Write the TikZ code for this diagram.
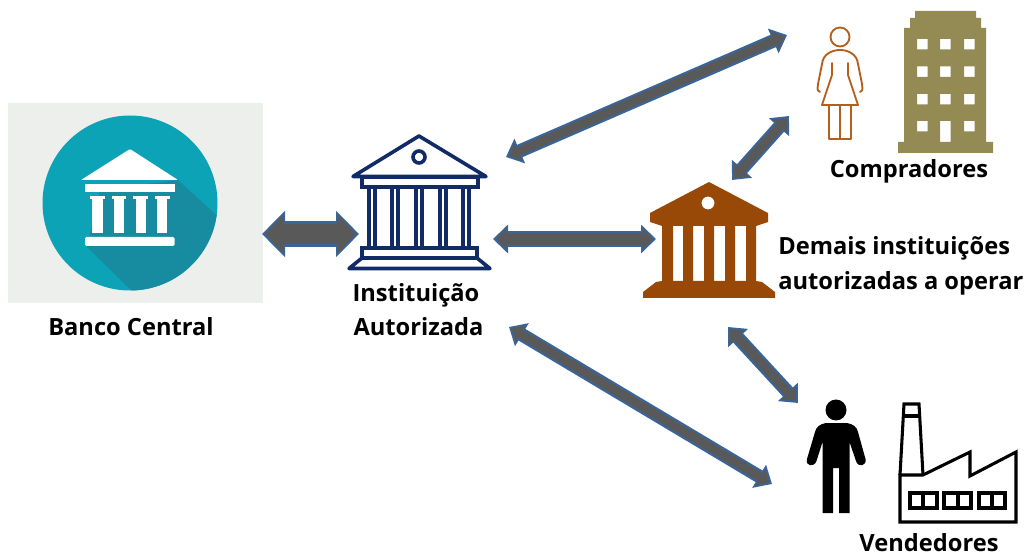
\documentclass[tikz,border=0pt]{standalone}
\usepackage{fontspec}
\setmainfont{Open Sans}
\usetikzlibrary{arrows.meta}
\definecolor{panelgrey}{HTML}{EDEFED}
\definecolor{teal1}{HTML}{0DA3B7}
\definecolor{teal2}{HTML}{178CA0}
\definecolor{navybank}{HTML}{112B66}
\definecolor{brownbank}{HTML}{984807}
\definecolor{womanline}{HTML}{B45F1C}
\definecolor{olivebld}{HTML}{948B54}
\definecolor{arrowcore}{HTML}{595959}
\definecolor{arrowedge}{HTML}{3A6598}
\tikzset{
  lbl/.style={font=\bfseries\fontsize{17.75}{20}\selectfont,text=black,inner sep=0pt},
  linkedge/.style={arrowedge,line width=#1*0.75pt+2.6pt},
  linkcore/.style={arrowcore,line width=#1*0.75pt-0.8pt},
  navy/.style={draw=navybank,line width=2.7pt,line join=miter},
  blk/.style={draw=black,line width=2.3pt,line join=miter},
  wom/.style={draw=womanline,line width=1.4pt,line join=round,line cap=round},
}
% #1 from, #2 to, #3 shaft px, #4 head width px, #5 head length px
\newcommand{\twoway}[5]{%
  \draw[linkedge=#3,{Triangle[length=#5*0.75pt,width=#4*0.75pt]}-{Triangle[length=#5*0.75pt,width=#4*0.75pt]}] (#1) -- (#2);
  \draw[linkcore=#3,shorten <=2.4pt,shorten >=2.4pt,{Triangle[length=#5*0.75pt-3.6pt,width=#4*0.75pt-5.4pt]}-{Triangle[length=#5*0.75pt-3.6pt,width=#4*0.75pt-5.4pt]}] (#1) -- (#2);
}
\begin{document}
\begin{tikzpicture}[x=0.75pt,y=-0.75pt]
\useasboundingbox (0,0) rectangle (1026,556);
% --- Banco Central icon
\fill[panelgrey] (8,103) rectangle (263,303);
\fill[teal1] (130,203) circle (87.5);
\begin{scope}
  \clip (130,203) circle (87.5);
  \fill[teal2] (178,180) -- (225,223) -- (225,300) -- (141,300) -- (87,247) -- (100,190) -- cycle;
\end{scope}
\fill[white,rounded corners=0.8pt] (130,149) -- (178,180) -- (81,180) -- cycle;
\fill[white] (85,184) rectangle (174.5,192);
\foreach \ca/\cb/\sa/\sb in {90/105/92/103,112/126/114/124,133/148/136/146,155/170/157/167}{
  \fill[white] (\ca,196) rectangle (\cb,199.5);
  \fill[white] (\sa,199) rectangle (\sb,233);
}
\fill[white,rounded corners=1pt] (85,237) rectangle (174.5,246);
% --- Instituicao Autorizada bank
\draw[navy,line join=round] (353,176.5) -- (419,136) -- (486,176.5) -- cycle;
\draw[navy] (419,157) circle (6);
\draw[navy] (362,177) rectangle (478,187);
\foreach \pa/\pb in {369/375,392/398,416/422,440/446,463/469}{
  \draw[navy] (\pa,187) -- (\pa,248);
  \draw[navy] (\pb,187) -- (\pb,248);
}
\draw[navy] (362,248) rectangle (477,258);
\draw[navy,line join=round] (362,258) -- (349,268.5) -- (490,268.5) -- (477,258);
% --- Demais instituicoes bank
\fill[brownbank,even odd rule]
  (709,182) -- (768,213) -- (768,222) -- (756,226) -- (756,281) -- (762,282) -- (775,292) -- (775,298)
  -- (643,298) -- (643,292) -- (656,282) -- (662,281) -- (662,226) -- (650,222) -- (650,213) -- cycle
  (708,203) circle (6.5)
  (673,226) rectangle (683,281)
  (693,226) rectangle (704,281)
  (714,226) rectangle (725,281)
  (735,226) rectangle (746,281);
% --- Woman
\draw[wom] (840,37) circle (9.5);
\draw[wom] (820,92) .. controls (816,90) and (818,88) .. (818,84) -- (822,64) .. controls (823,54) and (832,50) .. (840,50)
  .. controls (848,50) and (857,54) .. (858,64) -- (862,84) .. controls (862,88) and (864,90) .. (860,92);
\draw[wom] (832,63) -- (832,75) -- (822,105) -- (858,105) -- (848,75) -- (848,63);
\draw[wom] (829,105) -- (829,139) -- (851,139) -- (851,105);
\draw[wom] (840,105) -- (840,139);
% --- Building
\fill[olivebld,even odd rule]
  (915,11) -- (976,11) -- (976,18) -- (981,18) -- (981,28) -- (986,28) -- (986,142) -- (993,142) -- (993,153)
  -- (898,153) -- (898,142) -- (904,142) -- (904,28) -- (910,28) -- (910,18) -- (915,18) -- cycle
  \foreach \wy in {39,66.5,94,121}{
    (917,\wy) rectangle ++(10.5,10.5)
    (964,\wy) rectangle ++(10.5,10.5)
  }
  \foreach \wy in {39,66.5,94}{ (940,\wy) rectangle ++(10.5,10.5) }
  (940,121) rectangle (950.5,142);
% --- Man
\fill[black] (836,410) circle (10.5);
\fill[black]
  (826,423) -- (847,423) .. controls (853,424) and (857,427) .. (858,432) -- (865.5,459)
  .. controls (867,466) and (858,468) .. (856,461) -- (849.5,442)
  -- (849.5,513) -- (839,513) -- (839,468) -- (833,468) -- (833,513) -- (822.5,513) -- (822.5,442)
  -- (816.5,461) .. controls (814,468) and (805,466) .. (807,459) -- (815,432) .. controls (816,427) and (820,424) .. cycle;
% --- Factory
\draw[blk] (900,475) -- (904,404) -- (919,404) -- (923,475);
\draw[blk] (902,416) -- (920,416);
\draw[blk] (900,475) -- (900,522) -- (1016,522) -- (1016,452) -- (970,476) -- (970,452) -- (923,475) -- cycle;
\foreach \fa/\fm/\fb in {910/923/937,944/958/971,979/992/1005}{
  \draw[blk] (\fa,493) rectangle (\fb,508);
  \draw[blk] (\fm,493) -- (\fm,508);
}
% --- Labels
\node[lbl,anchor=base] (bc) at (131,335) {Banco Central};
\node[lbl,anchor=base] (ia1) at (416,302) {Instituição};
\node[lbl,anchor=base] (ia2) at (418.5,336) {Autorizada};
\node[lbl,anchor=base] (comp) at (909,178) {Compradores};
\node[lbl,anchor=base west] (dem1) at (778,255) {Demais instituições};
\node[lbl,anchor=base west] (dem2) at (778,290) {autorizadas a operar};
\node[lbl,anchor=base] (vend) at (929,551) {Vendedores};
% --- Connector ends
\coordinate (bcE) at (262,234);
\coordinate (iaW) at (359,234);
\coordinate (iaE) at (493,239);
\coordinate (brW) at (656,239);
\coordinate (iaNE) at (506,157);
\coordinate (compW) at (787,35);
\coordinate (brN) at (732,180);
\coordinate (compS) at (789,116);
\coordinate (iaSE) at (509,327);
\coordinate (vendW) at (772,484);
\coordinate (brS) at (728,327);
\coordinate (vendN) at (798,403);
% --- Connectors
\twoway{bcE}{iaW}{22}{45}{23}
\twoway{iaE}{brW}{13}{28}{15}
\twoway{iaNE}{compW}{10}{26}{15}
\twoway{brN}{compS}{10}{26}{15}
\twoway{iaSE}{vendW}{10}{26}{15}
\twoway{brS}{vendN}{10}{26}{15}
\end{tikzpicture}
\end{document}
